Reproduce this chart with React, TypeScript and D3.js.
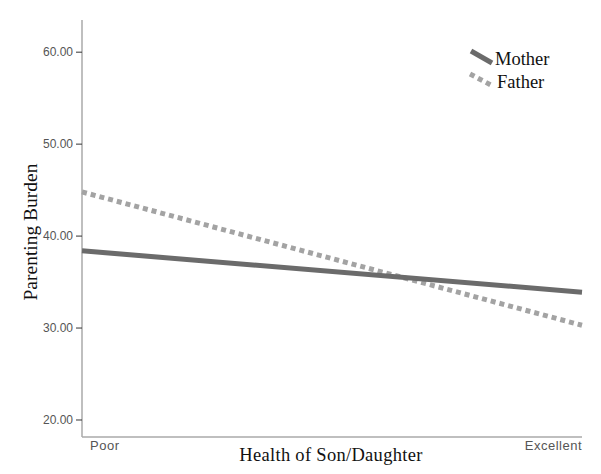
import React, { useEffect, useRef } from "react";
import * as d3 from "d3";

const categories = ["Poor", "Excellent"];
const yTicks = [20, 30, 40, 50, 60];
const motherValues = [38.4, 33.9];
const fatherValues = [44.8, 30.3];

const width = 601;
const height = 474;

const App = () => {
  const ref = useRef<SVGSVGElement>(null);

  useEffect(() => {
    const svg = d3.select(ref.current);
    svg.selectAll("*").remove();

    const x = d3.scaleLinear().domain([0, 1]).range([82, 582]);
    const y = d3.scaleLinear().domain([18.15, 63.5]).range([437, 20]);

    const sans = "Liberation Sans, Arial, sans-serif";
    const serif = "Liberation Serif, Times New Roman, serif";

    // axes
    svg
      .append("line")
      .attr("x1", 82)
      .attr("x2", 82)
      .attr("y1", y(63.5))
      .attr("y2", y(18.15))
      .attr("stroke", "#aaa")
      .attr("stroke-width", 1.5);
    svg
      .append("line")
      .attr("x1", 82)
      .attr("x2", 582)
      .attr("y1", y(18.15))
      .attr("y2", y(18.15))
      .attr("stroke", "#aaa")
      .attr("stroke-width", 1.5);

    const ticks = svg.append("g").selectAll("g").data(yTicks).join("g");
    ticks
      .append("line")
      .attr("x1", 76)
      .attr("x2", 82)
      .attr("y1", (d) => y(d))
      .attr("y2", (d) => y(d))
      .attr("stroke", "#333")
      .attr("stroke-width", 1);
    ticks
      .append("text")
      .attr("x", 73)
      .attr("y", (d) => y(d))
      .attr("dy", "0.35em")
      .attr("text-anchor", "end")
      .style("font-family", sans)
      .style("font-size", "12px")
      .style("fill", "#555")
      .text((d) => d.toFixed(2));

    svg
      .append("text")
      .attr("x", 90)
      .attr("y", 450)
      .style("font-family", sans)
      .style("font-size", "13px")
      .style("letter-spacing", "0.5px")
      .style("fill", "#555")
      .text(categories[0]);
    svg
      .append("text")
      .attr("x", 582)
      .attr("y", 450)
      .attr("text-anchor", "end")
      .style("font-family", sans)
      .style("font-size", "13px")
      .style("letter-spacing", "0.5px")
      .style("fill", "#555")
      .text(categories[1]);

    // titles
    svg
      .append("text")
      .attr("x", 331)
      .attr("y", 461)
      .attr("text-anchor", "middle")
      .style("font-family", serif)
      .style("font-size", "18.5px")
      .style("letter-spacing", "0.3px")
      .style("fill", "#111")
      .text("Health of Son/Daughter");
    svg
      .append("text")
      .attr("transform", "translate(37,232) rotate(-90)")
      .attr("text-anchor", "middle")
      .style("font-family", serif)
      .style("font-size", "19.5px")
      .style("fill", "#111")
      .text("Parenting Burden");

    const line = d3
      .line<number>()
      .x((_, i) => x(i))
      .y((d) => y(d));

    svg
      .append("path")
      .attr("d", line(fatherValues))
      .attr("fill", "none")
      .attr("stroke", "#a3a3a3")
      .attr("stroke-width", 5)
      .attr("stroke-dasharray", "5,4");
    svg
      .append("path")
      .attr("d", line(motherValues))
      .attr("fill", "none")
      .attr("stroke", "#6b6b6b")
      .attr("stroke-width", 5);

    // legend
    const legend = svg.append("g");
    legend
      .append("line")
      .attr("x1", 471)
      .attr("y1", 51)
      .attr("x2", 492)
      .attr("y2", 63)
      .attr("stroke", "#6b6b6b")
      .attr("stroke-width", 5);
    legend
      .append("line")
      .attr("x1", 470)
      .attr("y1", 74)
      .attr("x2", 491)
      .attr("y2", 85)
      .attr("stroke", "#a3a3a3")
      .attr("stroke-width", 5)
      .attr("stroke-dasharray", "5,4");
    legend
      .append("text")
      .attr("x", 495)
      .attr("y", 65)
      .style("font-family", serif)
      .style("font-size", "18.5px")
      .style("fill", "#111")
      .text("Mother");
    legend
      .append("text")
      .attr("x", 497)
      .attr("y", 88)
      .style("font-family", serif)
      .style("font-size", "18.5px")
      .style("fill", "#111")
      .text("Father");
  }, []);

  return (
    <svg
      ref={ref}
      width={width}
      height={height}
      style={{ position: "absolute", left: 0, top: 0, background: "#fff" }}
    ></svg>
  );
};

export default App;
